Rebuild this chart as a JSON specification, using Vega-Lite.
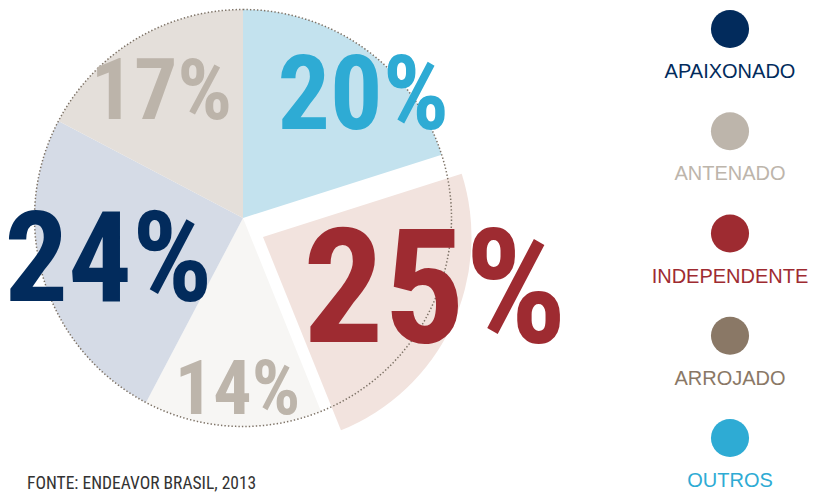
{
  "$schema": "https://vega.github.io/schema/vega-lite/v6.json",
  "padding": 0,
  "bounds": "flush",
  "spacing": 160,
  "background": "white",
  "config": {"view": {"stroke": null}},
  "resolve": {"scale": {"color": "independent"}},
  "datasets": {
    "perfis": [
      {"perfil": "OUTROS", "ordem": 1, "fatia": 20.1, "rotulo": "20%"},
      {"perfil": "INDEPENDENTE", "ordem": 2, "fatia": 23.8, "rotulo": "25%"},
      {"perfil": "ANTENADO", "ordem": 3, "fatia": 13.8, "rotulo": "14%"},
      {"perfil": "APAIXONADO", "ordem": 4, "fatia": 25.0, "rotulo": "24%"},
      {"perfil": "ARROJADO", "ordem": 5, "fatia": 17.3, "rotulo": "17%"}
    ]
  },
  "hconcat": [
    {
      "width": 486,
      "height": 436,
      "data": {"name": "perfis"},
      "title": {
        "text": "FONTE: ENDEAVOR BRASIL, 2013",
        "orient": "bottom",
        "anchor": "start",
        "frame": "group",
        "offset": 29,
        "baseline": "top",
        "dx": 27,
        "font": "Roboto Condensed, Liberation Sans Narrow, DejaVu Sans Condensed, sans-serif",
        "fontSize": 17.5,
        "fontWeight": "normal",
        "color": "#333333"
      },
      "layer": [
        {
          "mark": {"type": "arc", "radius": 208.5},
          "encoding": {
            "theta": {"field": "fatia", "type": "quantitative", "stack": true},
            "order": {"field": "ordem", "type": "quantitative"},
            "color": {
              "field": "perfil", "type": "nominal", "legend": null,
              "scale": {
                "domain": ["OUTROS", "INDEPENDENTE", "ANTENADO", "APAIXONADO", "ARROJADO"],
                "range": ["#c3e2ee", "#f2e3de", "#f7f6f4", "#d5dbe6", "#e4dfda"]
              }
            },
            "opacity": {"condition": {"test": "datum.perfil === 'INDEPENDENTE'", "value": 0}, "value": 1}
          }
        },
        {
          "mark": {"type": "arc", "radius": 208.5, "xOffset": 20, "yOffset": 19},
          "encoding": {
            "theta": {"field": "fatia", "type": "quantitative", "stack": true},
            "order": {"field": "ordem", "type": "quantitative"},
            "color": {"field": "perfil", "type": "nominal", "legend": null},
            "opacity": {"condition": {"test": "datum.perfil === 'INDEPENDENTE'", "value": 1}, "value": 0}
          }
        },
        {
          "data": {"values": [{"contorno": "circulo"}]},
          "mark": {
            "type": "arc", "radius": 208.5, "theta": 0, "theta2": 6.2832,
            "filled": false, "fill": null, "stroke": "#7d7266",
            "strokeWidth": 1.5, "strokeDash": [1.4, 2.1]
          },
          "encoding": {}
        },
        {
          "transform": [
            {"stack": "fatia", "groupby": [], "sort": [{"field": "ordem", "order": "ascending"}], "as": ["inicio", "fim"]},
            {"filter": "datum.perfil === 'OUTROS'"}
          ],
          "mark": {"type": "text", "radius": 175, "thetaOffset": 0.6315, "dx": 17, "dy": 21, "align": "center", "baseline": "middle",
                   "font": "Roboto Condensed, Liberation Sans Narrow, DejaVu Sans Condensed, sans-serif", "fontWeight": "bold", "fontSize": 104, "color": "#2eabd4"},
          "encoding": {
            "theta": {"field": "inicio", "type": "quantitative"},
            "text": {"field": "rotulo"}
          }
        },
        {
          "transform": [
            {"stack": "fatia", "groupby": [], "sort": [{"field": "ordem", "order": "ascending"}], "as": ["inicio", "fim"]},
            {"filter": "datum.perfil === 'INDEPENDENTE'"}
          ],
          "mark": {"type": "text", "radius": 179, "thetaOffset": 0.7477, "dx": 30, "dy": 0, "align": "center", "baseline": "middle",
                   "font": "Roboto Condensed, Liberation Sans Narrow, DejaVu Sans Condensed, sans-serif", "fontWeight": "bold", "fontSize": 160, "color": "#9e2b31"},
          "encoding": {
            "theta": {"field": "inicio", "type": "quantitative"},
            "text": {"field": "rotulo"}
          }
        },
        {
          "transform": [
            {"stack": "fatia", "groupby": [], "sort": [{"field": "ordem", "order": "ascending"}], "as": ["inicio", "fim"]},
            {"filter": "datum.perfil === 'ANTENADO'"}
          ],
          "mark": {"type": "text", "radius": 169, "thetaOffset": 0.4335, "dx": 3, "dy": 4.5, "align": "center", "baseline": "middle",
                   "font": "Roboto Condensed, Liberation Sans Narrow, DejaVu Sans Condensed, sans-serif", "fontWeight": "bold", "fontSize": 76, "color": "#bdb5ab"},
          "encoding": {
            "theta": {"field": "inicio", "type": "quantitative"},
            "text": {"field": "rotulo"}
          }
        },
        {
          "transform": [
            {"stack": "fatia", "groupby": [], "sort": [{"field": "ordem", "order": "ascending"}], "as": ["inicio", "fim"]},
            {"filter": "datum.perfil === 'APAIXONADO'"}
          ],
          "mark": {"type": "text", "radius": 143, "thetaOffset": 0.7854, "dx": 2, "dy": 2.5, "align": "center", "baseline": "middle",
                   "font": "Roboto Condensed, Liberation Sans Narrow, DejaVu Sans Condensed, sans-serif", "fontWeight": "bold", "fontSize": 126, "color": "#022b5c"},
          "encoding": {
            "theta": {"field": "inicio", "type": "quantitative"},
            "text": {"field": "rotulo"}
          }
        },
        {
          "transform": [
            {"stack": "fatia", "groupby": [], "sort": [{"field": "ordem", "order": "ascending"}], "as": ["inicio", "fim"]},
            {"filter": "datum.perfil === 'ARROJADO'"}
          ],
          "mark": {"type": "text", "radius": 156, "thetaOffset": 0.5435, "dx": -1, "dy": 9, "align": "center", "baseline": "middle",
                   "font": "Roboto Condensed, Liberation Sans Narrow, DejaVu Sans Condensed, sans-serif", "fontWeight": "bold", "fontSize": 86, "color": "#bcb4aa"},
          "encoding": {
            "theta": {"field": "inicio", "type": "quantitative"},
            "text": {"field": "rotulo"}
          }
        }
      ]
    },
    {
      "width": 168,
      "height": 492,
      "data": {"name": "perfis"},
      "encoding": {
        "y": {
          "field": "perfil", "type": "nominal", "axis": null,
          "scale": {"type": "point", "padding": 0, "domain": ["APAIXONADO", "ANTENADO", "INDEPENDENTE", "ARROJADO", "OUTROS"], "range": [29, 438]}
        },
        "color": {
          "field": "perfil", "type": "nominal", "legend": null,
          "scale": {
            "domain": ["APAIXONADO", "ANTENADO", "INDEPENDENTE", "ARROJADO", "OUTROS"],
            "range": ["#022b5c", "#bdb5ab", "#9e2b31", "#8a7866", "#2eabd4"]
          }
        }
      },
      "layer": [
        {"mark": {"type": "point", "filled": true, "size": 1452, "opacity": 1}},
        {
          "mark": {"type": "text", "dy": 43, "align": "center", "baseline": "middle", "font": "Liberation Sans, Arial, sans-serif", "fontSize": 20},
          "encoding": {"text": {"field": "perfil"}}
        }
      ]
    }
  ]
}
